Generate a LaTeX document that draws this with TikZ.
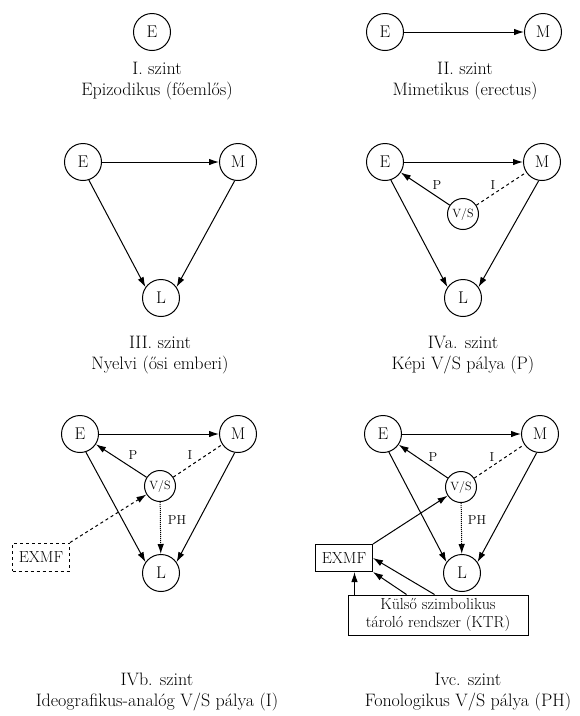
\documentclass[tikz,border=0pt]{standalone}
\usepackage{fontspec}
\usepackage{tikz}
\usetikzlibrary{arrows.meta}

\begin{document}
\begin{tikzpicture}[x=1pt,y=-1pt]
\tikzset{every node/.style={font=\fontsize{17}{20}\selectfont},
  kor/.style={circle,draw,line width=1pt,minimum size=37pt,inner sep=0pt},
  vs/.style={circle,draw,line width=1pt,minimum size=31pt,inner sep=0pt,font=\fontsize{12}{14}\selectfont},
  jel/.style={inner sep=1pt,font=\fontsize{13}{15}\selectfont},
  nyil/.style={line width=1pt,-{Latex[length=10pt,width=6.5pt]}},
  vonal/.style={line width=1pt},
  szint/.style={align=center,font=\fontsize{18}{21}\selectfont},
  doboz/.style={draw,line width=1pt,inner sep=2pt}}
\useasboundingbox (0,0) rectangle (580,716);
\fill[white] (0,0) rectangle (580,716);

\node[kor] (e1) at (152,32) {E};
\node[szint] (t1) at (157,81) {I. szint\\Epizodikus (főemlős)};

\node[kor] (e2) at (385,32) {E};
\node[kor] (m2) at (543,32) {M};
\draw[nyil] (e2) -- (m2);
\node[szint] (t2) at (465,81) {II. szint\\Mimetikus (erectus)};

\node[kor] (e3) at (83,162) {E};
\node[kor] (m3) at (238,162) {M};
\node[kor] (l3) at (161,298) {L};
\draw[nyil] (e3) -- (m3);
\draw[nyil] (e3.-72) -- (l3.145);
\draw[nyil] (m3.-100) -- (l3.35);
\node[szint] (t3) at (160,355) {III. szint\\Nyelvi (ősi emberi)};

\node[kor] (e4a) at (385,162) {E};
\node[kor] (m4a) at (542,162) {M};
\node[vs] (v4a) at (463,214) {V/S};
\node[kor] (l4a) at (463,298) {L};
\draw[nyil] (e4a) -- (m4a);
\draw[nyil] (e4a.-72) -- (l4a.145);
\draw[nyil] (m4a.-100) -- (l4a.35);
\draw[nyil] (v4a) -- (e4a);
\draw[vonal,dashed] (v4a) -- (m4a);
\node[jel] (p4a) at (437,185) {P};
\node[jel] (i4a) at (493,185) {I};
\node[szint] (t4a) at (463,355) {IVa. szint\\Képi V/S pálya (P)};

\node[kor] (e4b) at (80,434) {E};
\node[kor] (m4b) at (238,434) {M};
\node[vs] (v4b) at (160,486) {V/S};
\node[kor] (l4b) at (161,573) {L};
\node[doboz,dashed,minimum width=57pt,minimum height=28pt,font=\fontsize{16}{18}\selectfont] (x4b) at (41,557) {EXMF};
\draw[nyil] (e4b) -- (m4b);
\draw[nyil] (e4b.-72) -- (l4b.145);
\draw[nyil] (m4b.-100) -- (l4b.35);
\draw[nyil] (v4b) -- (e4b);
\draw[vonal,dashed] (v4b) -- (m4b);
\draw[nyil,densely dotted] (v4b) -- (l4b);
\draw[nyil,dashed] (x4b.north east) -- (v4b);
\node[jel] (p4b) at (133,455) {P};
\node[jel] (i4b) at (190,455) {I};
\node[jel] (h4b) at (177,520) {PH};
\node[szint] (t4b) at (157,692) {IVb. szint\\Ideografikus-analóg V/S pálya (I)};

\node[kor] (e4c) at (383,434) {E};
\node[kor] (m4c) at (540,434) {M};
\node[vs] (v4c) at (461,487) {V/S};
\node[kor] (l4c) at (462,573) {L};
\node[doboz,minimum width=57pt,minimum height=27pt,font=\fontsize{16}{18}\selectfont] (x4c) at (344,558) {EXMF};
\node[doboz,align=center,minimum width=180pt,minimum height=40pt,font=\fontsize{16}{18}\selectfont] (ktr) at (438,615) {Külső szimbolikus\\tároló rendszer (KTR)};
\coordinate (k1) at ([xshift=7pt]ktr.north west);
\coordinate (k2) at ([xshift=59pt]ktr.north west);
\coordinate (k3) at ([xshift=87pt]ktr.north west);
\draw[nyil] (e4c) -- (m4c);
\draw[nyil] (e4c.-72) -- (l4c.145);
\draw[nyil] (m4c.-100) -- (l4c.35);
\draw[nyil] (v4c) -- (e4c);
\draw[vonal,dashed] (v4c) -- (m4c);
\draw[nyil,densely dotted] (v4c) -- (l4c);
\draw[nyil] (x4c.north east) -- (v4c);
\draw[nyil] (k1) -- (k1 |- x4c.south);
\draw[nyil] (k2) -- (x4c.south east);
\draw[nyil] (k3) -- (x4c.east);
\node[jel] (p4c) at (433,457) {P};
\node[jel] (i4c) at (492,457) {I};
\node[jel] (h4c) at (477,520) {PH};
\node[szint] (t4c) at (468,692) {Ivc. szint\\Fonologikus V/S pálya (PH)};
\end{tikzpicture}
\end{document}
